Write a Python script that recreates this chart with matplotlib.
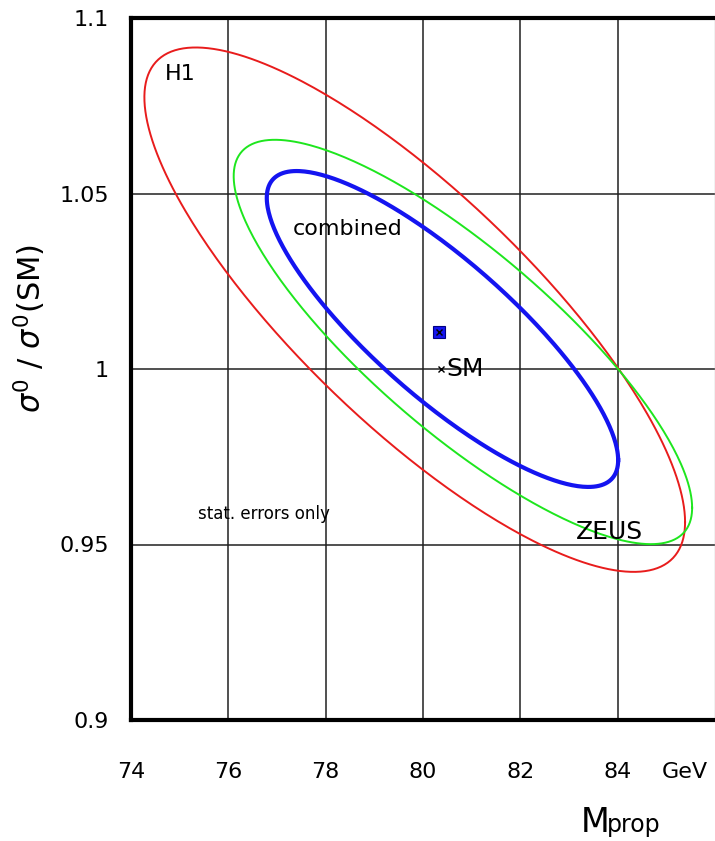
import numpy as np
import matplotlib
matplotlib.use("Agg")
import matplotlib.pyplot as plt

# ============================
# Contours: centre, half extents and correlation
# ============================
names = ["H1", "ZEUS", "combined"]
colors = ["#e81c1c", "#1ee61e", "#1414f0"]
widths = [1.4, 1.4, 3.0]
cen_x = [79.83, 80.82, 80.40]
cen_y = [1.0169, 1.0077, 1.0114]
half_x = [5.555, 4.71, 3.61]
half_y = [0.0747, 0.0576, 0.0450]
rho = [-0.81, -0.82, -0.83]

fit_point = (80.33, 1.0105)
sm_point = (80.38, 1.0)

xticks = [74, 76, 78, 80, 82, 84]
yticks = [0.9, 0.95, 1.0, 1.05, 1.1]
ytick_labels = ["0.9", "0.95", "1", "1.05", "1.1"]

plt.rcParams['font.family'] = ['DejaVu Sans']

fig = plt.figure(figsize=(7.15, 8.41), dpi=100)
ax = fig.add_axes([131/715., 121/841., 584/715., 702/841.])

t = np.linspace(0, 2*np.pi, 400)
for i in range(len(names)):
    s = np.sqrt(1 - rho[i]**2)
    xs = cen_x[i] + half_x[i]*np.cos(t)
    ys = cen_y[i] + half_y[i]*(rho[i]*np.cos(t) + s*np.sin(t))
    ax.plot(xs, ys, color=colors[i], lw=widths[i], zorder=3)

# best fit and SM
ax.plot(*fit_point, marker='s', ms=8, mfc='#1414f0', mec='#000080', mew=0.8, zorder=4)
ax.plot(*fit_point, marker='x', ms=5, color='k', mew=1.0, zorder=5)
ax.plot(*sm_point, marker='x', ms=5, color='k', mew=1.0, zorder=5)

ax.text(80.48, 1.0, "SM", fontsize=18, va='center', ha='left', zorder=6)
ax.text(74.70, 1.084, "H1", fontsize=16, va='center', ha='left')
ax.text(77.32, 1.0399, "combined", fontsize=16, va='center', ha='left')
ax.text(83.15, 0.9536, "ZEUS", fontsize=18, va='center', ha='left', zorder=6)
ax.text(75.37, 0.9587, "stat. errors only", fontsize=12, va='center', ha='left')

ax.set_xlim(74, 86)
ax.set_ylim(0.9, 1.1)
ax.set_xticks(xticks)
ax.set_yticks(yticks)
ax.set_yticklabels(ytick_labels)
ax.tick_params(length=0, labelsize=16)
ax.tick_params(axis='x', pad=30)
ax.tick_params(axis='y', pad=16)
ax.grid(True, color='#202020', lw=1.1)

for side in ['left', 'bottom', 'top']:
    ax.spines[side].set_linewidth(3.0)
ax.spines['right'].set_color('#bbbbbb')
ax.spines['right'].set_linewidth(1.0)

# unit label sits in the tick label row
ax.annotate("GeV", xy=(85.37, 0.9), xycoords='data', xytext=(0, -30),
            textcoords='offset points', fontsize=16, ha='center', va='top',
            annotation_clip=False)

fig.text(30/715., 1 - 328/841., r"$\sigma^0$ / $\sigma^0$(SM)", rotation=90,
         fontsize=22, ha='center', va='center')
fig.text(581/715., 1 - 832/841., "M", fontsize=24, ha='left', va='baseline')
fig.text(607/715., 1 - 832/841., "prop", fontsize=17, ha='left', va='baseline')

fig.savefig("out.png", dpi=100)
